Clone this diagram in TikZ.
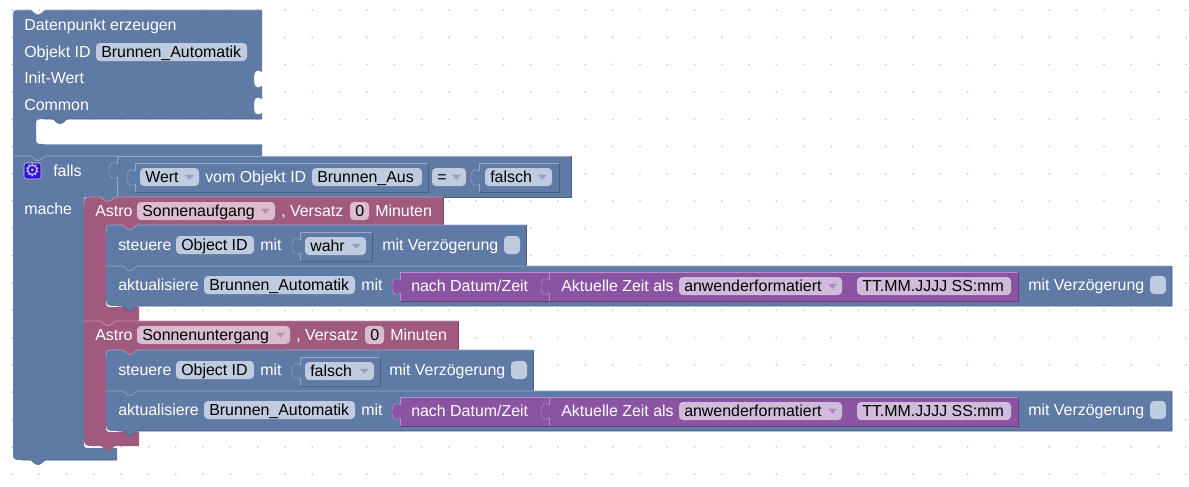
\documentclass[tikz,border=0pt]{standalone}
\usepackage{fontspec}
\setmainfont{Liberation Sans}
\definecolor{bl}{RGB}{95,122,165}
\definecolor{bll}{RGB}{150,170,200}
\definecolor{bld}{RGB}{72,95,133}
\definecolor{blf}{RGB}{191,203,222}
\definecolor{ro}{RGB}{160,90,125}
\definecolor{rol}{RGB}{200,150,175}
\definecolor{rod}{RGB}{125,68,97}
\definecolor{rof}{RGB}{217,189,204}
\definecolor{pu}{RGB}{139,84,163}
\definecolor{pul}{RGB}{180,145,200}
\definecolor{pud}{RGB}{105,62,125}
\definecolor{puf}{RGB}{209,187,219}
\definecolor{dotc}{RGB}{205,205,205}
\definecolor{gearbg}{RGB}{55,15,210}
\tikzset{
 x=0.75pt,y=-0.75pt,
 lab/.style={anchor=base west,yshift=-4pt,inner sep=0pt,text=white,font=\fontsize{11.95pt}{13pt}\selectfont},
 ftext/.style={anchor=base west,yshift=-3.75pt,inner sep=0pt,text=black,font=\fontsize{11.95pt}{13pt}\selectfont},
 hl/.style={line width=0.5pt},
 hlt/.style={line width=0.35pt},
}
% notch, left to right / right to left (x = left end of notch, y = edge)
\newcommand{\nr}[2]{-- (#1,#2) .. controls (#1+3,#2) and (#1+4,#2+4.5) .. (#1+8,#2+4.5) .. controls (#1+12,#2+4.5) and (#1+13,#2) .. (#1+16,#2)}
\newcommand{\nl}[2]{-- (#1+16,#2) .. controls (#1+13,#2) and (#1+12,#2+4.5) .. (#1+8,#2+4.5) .. controls (#1+4,#2+4.5) and (#1+3,#2) .. (#1,#2)}
% field: x1 x2 yc fill text name
\newcommand{\fieldb}[6]{%
 \fill[#4,rounded corners=3pt] (#1,#3-9) rectangle (#2,#3+9);
 \node[ftext] (#6) at (#1+5,#3) {#5};}
% dropdown field: x1 x2 yc fill text arrowcolour name
\newcommand{\dropb}[7]{%
 \fieldb{#1}{#2}{#3}{#4}{#5}{#7}
 \fill[#6] (#2-14,#3-2.2) -- (#2-5,#3-2.2) -- (#2-9.5,#3+2.6) -- cycle;}
% value block: x1 y1 x2 y2 fill light dark
\newcommand{\valb}[7]{%
 \fill[#5] (#1,#2) -- (#3,#2) -- (#3,#4) -- (#1,#4) -- (#1,#2+21)
   .. controls (#1-3,#2+24) and (#1-8,#2+22) .. (#1-8,#2+16)
   -- (#1-8,#2+13) .. controls (#1-8,#2+7) and (#1-3,#2+5) .. (#1,#2+8) -- cycle;
 \draw[#7,hl] (#1,#4) -- (#3,#4) -- (#3,#2);
 \draw[#6,hl] (#1,#2+8) -- (#1,#2) -- (#3,#2);
 \draw[#6,hl] (#1,#2+21) -- (#1,#4);
 \draw[#6,hlt] (#1,#2+21) .. controls (#1-3,#2+24) and (#1-8,#2+22) .. (#1-8,#2+16)
   -- (#1-8,#2+13) .. controls (#1-8,#2+7) and (#1-3,#2+5) .. (#1,#2+8);}
\begin{document}
\begin{tikzpicture}
\useasboundingbox (0,0) rectangle (1189,486);
\fill[white] (0,0) rectangle (1189,486);
\foreach \i in {0,...,43} \foreach \j in {0,...,17}
  \fill[dotc] (12+27.3*\i,10+27.3*\j) circle (1);

% if block
\fill[bl] (13,156) -- (117,156) -- (117,197) \nl{100}{197} -- (84,197) -- (84,442) .. controls (84,448) .. (90,448) -- (117,448) -- (117,460) \nl{30}{460} -- (22,460) .. controls (13,460) .. (13,451) -- cycle;
\draw[bld,hl] (117,460) \nl{30}{460} -- (22,460);

% top block (its tab fills the notch of the if block)
\fill[bl] (13,18) .. controls (13,10) .. (21,10) \nr{30}{10} -- (262,10) -- (262,72)
 .. controls (255,68) and (254,73) .. (254,79) .. controls (254,85) and (255,90) .. (262,86)
 -- (262,99) .. controls (255,95) and (254,100) .. (254,106) .. controls (254,112) and (255,117) .. (262,113)
 -- (262,119) \nl{52}{119} -- (44,119) .. controls (36,119) .. (36,127) -- (36,136) .. controls (36,144) .. (44,144) -- (262,144) -- (262,157) -- (13,157) -- cycle;
\draw[bll,hl] (13,18) .. controls (13,10) .. (21,10) \nr{30}{10} -- (262,10);
\draw[bld,hl] (262,119) \nl{52}{119} -- (44,119);
\draw[bll,hl] (44,144) -- (262,144);
\draw[bll,hl] (13,156) \nr{30}{156} -- (117,156);
\node[lab] (t1) at (24,25) {Datenpunkt erzeugen};
\node[lab] (t2) at (24,52) {Objekt ID};
\fieldb{96}{247}{52}{blf}{Brunnen\_Automatik}{f1}
\node[lab] (t3) at (24,78) {Init-Wert};
\node[lab] (t4) at (24,105) {Common};

\fill[gearbg,rounded corners=2pt,draw=blf,line width=0.4pt] (24,163) rectangle (41,179);
\node[inner sep=0pt,text=blf,font=\fontsize{13pt}{13pt}\selectfont] (gear) at (32.5,170.5) {\fontspec{DejaVu Sans}⚙};
\node[lab] (t5) at (53,171) {falls};
\node[lab] (t6) at (24,209) {mache};

% equals block
\valb{117}{156}{571}{197}{bl}{bll}{bld}
\valb{135}{163}{428}{192}{bl}{bll}{bld}
\dropb{140}{199}{177}{blf}{Wert}{bl!70!white}{f2}
\node[lab] (t7) at (205,177) {vom Objekt ID};
\fieldb{312}{422}{177}{blf}{Brunnen\_Aus}{f3}
\dropb{432}{466}{177}{blf}{=}{bl!70!white}{f4}
\valb{479}{163}{559}{192}{bl}{bll}{bld}
\dropb{485}{552}{177}{blf}{falsch}{bl!70!white}{f5}

% astro 1
\fill[ro] (84,205) .. controls (84,197) .. (92,197) \nr{100}{197} -- (443,197) -- (443,225) \nl{122}{225} -- (114,225) .. controls (106,225) .. (106,233) -- (106,300) .. controls (106,307) .. (113,307) -- (139,307) -- (139,321) \nl{100}{321} -- (84,321) -- cycle;
% astro 2
\fill[ro] (84,321) \nr{100}{321} -- (458,321) -- (458,350) \nl{122}{350} -- (114,350) .. controls (106,350) .. (106,358) -- (106,425) .. controls (106,432) .. (113,432) -- (139,432) -- (139,446) \nl{100}{446} -- (96,446) .. controls (84,446) .. (84,434) -- cycle;
\draw[rol,hl] (84,321) \nr{100}{321} -- (458,321);
\draw[rol,hl] (84,205) .. controls (84,197) .. (92,197) \nr{100}{197} -- (443,197);
\draw[rod,hl] (443,197) -- (443,225);
\draw[rod,hl] (458,321) -- (458,350);
\node[lab] (a1) at (95,211) {Astro};
\dropb{137}{275}{211}{rof}{Sonnenaufgang}{ro!70!white}{f6}
\node[lab] (a2) at (281,211) {, Versatz};
\fieldb{350}{369}{211}{rof}{0}{f7}
\node[lab] (a3) at (375,211) {Minuten};
\node[lab] (b1) at (95,335) {Astro};
\dropb{137}{290}{335}{rof}{Sonnenuntergang}{ro!70!white}{f8}
\node[lab] (b2) at (296,335) {, Versatz};
\fieldb{365}{384}{335}{rof}{0}{f9}
\node[lab] (b3) at (390,335) {Minuten};

% inner statement pairs
\foreach \dy/\rx/\vx/\vname/\lx/\cx in {0/526/372/wahr/382/504, 125/533/380/falsch/389/511}{
\fill[bl] (106,233+\dy) .. controls (106,225+\dy) .. (114,225+\dy) -- (122,225+\dy) -- (\rx,225+\dy) -- (\rx,266+\dy) -- (1172,266+\dy) -- (1172,306+\dy) \nl{122}{306+\dy} -- (118,306+\dy) .. controls (106,306+\dy) .. (106,294+\dy) -- cycle;
\fill[ro] (122,224.5+\dy) \nr{122}{225+\dy} -- cycle;
\draw[bll,hl] (106,233+\dy) .. controls (106,225+\dy) .. (114,225+\dy) \nr{122}{225+\dy} -- (\rx,225+\dy);
\draw[bld,hl] (\rx,225+\dy) -- (\rx,266+\dy);
\draw[bll,hl] (106,266+\dy) \nr{122}{266+\dy} -- (1172,266+\dy);
\draw[bld,hl] (1172,266+\dy) -- (1172,306+\dy) \nl{122}{306+\dy} -- (118,306+\dy);
\node[lab] (s\dy) at (118,245+\dy) {steuere};
\fieldb{176}{254}{245+\dy}{blf}{Object ID}{fo\dy}
\node[lab] (m\dy) at (260,245+\dy) {mit};
\valb{300}{232+\dy}{\vx}{261+\dy}{bl}{bll}{bld}
\dropb{305}{\vx-6}{246+\dy}{blf}{\vname}{bl!70!white}{fv\dy}
\node[lab] (v\dy) at (\lx,245+\dy) {mit Verzögerung};
\fill[blf,rounded corners=3pt] (\cx,236+\dy) rectangle (\cx+16,254+\dy);
\node[lab] (k\dy) at (118,285+\dy) {aktualisiere};
\fieldb{204}{355}{285+\dy}{blf}{Brunnen\_Automatik}{fa\dy}
\node[lab] (n\dy) at (361,285+\dy) {mit};
\valb{400}{272+\dy}{549}{301+\dy}{pu}{pul}{pud}
\node[lab] (d\dy) at (411,286+\dy) {nach Datum/Zeit};
\valb{549}{272+\dy}{1018}{301+\dy}{pu}{pul}{pud}
\node[lab] (z\dy) at (561,286+\dy) {Aktuelle Zeit als};
\dropb{679}{842}{286+\dy}{puf}{anwenderformatiert}{pu!70!white}{fb\dy}
\fieldb{857}{1011}{286+\dy}{puf}{TT.MM.JJJJ SS:mm}{fc\dy}
\node[lab] (w\dy) at (1028,285+\dy) {mit Verzögerung};
\fill[blf,rounded corners=3pt] (1150,276+\dy) rectangle (1166,294+\dy);
}
\end{tikzpicture}
\end{document}
